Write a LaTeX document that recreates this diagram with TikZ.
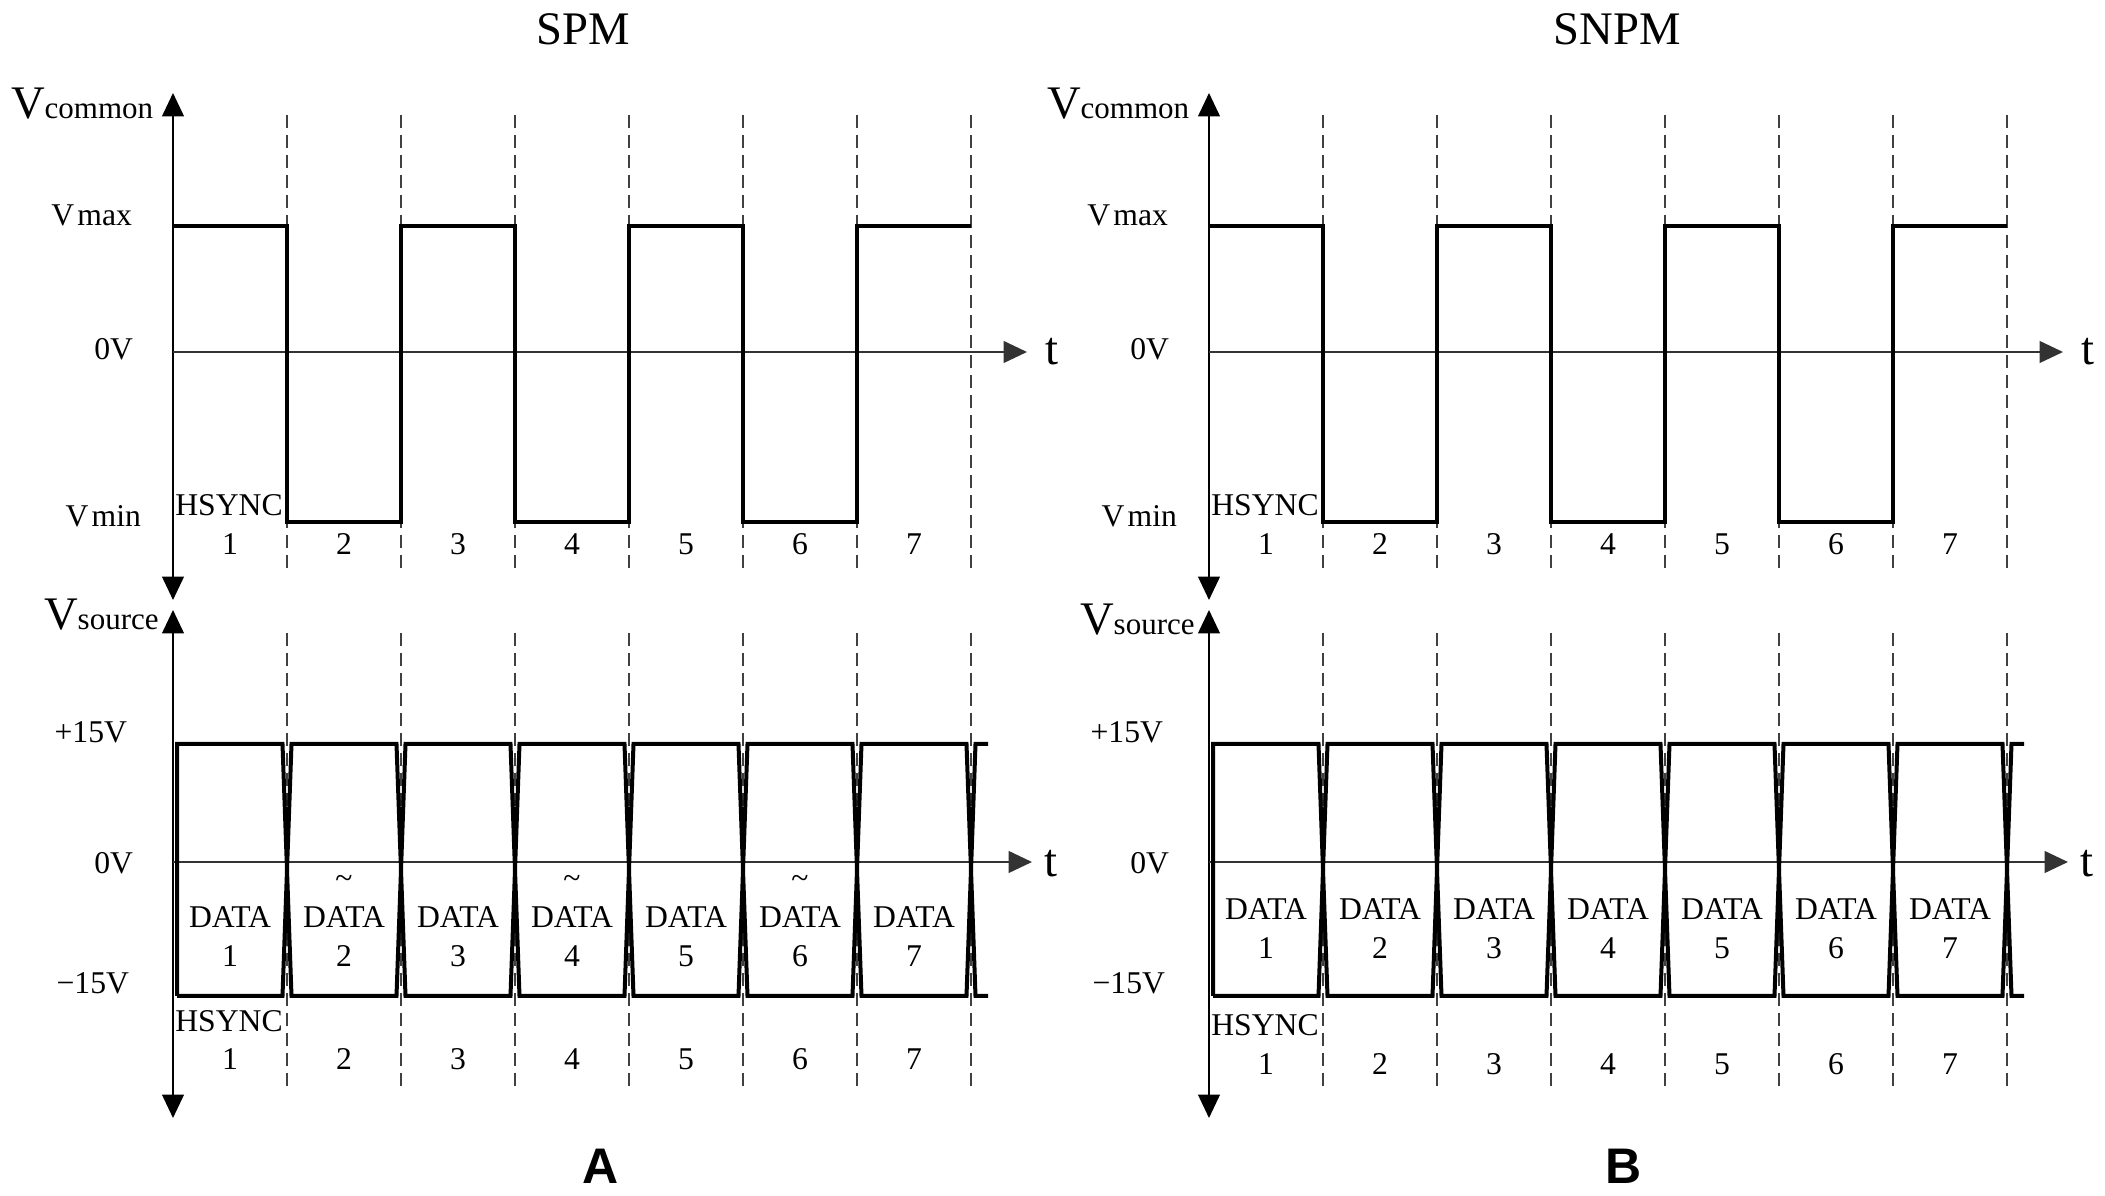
\documentclass[tikz,border=0pt]{standalone}
\usepackage{fontspec}
\setmainfont{Liberation Serif}
\newfontfamily\panelfont{Liberation Sans}
\usetikzlibrary{arrows.meta}

\tikzset{every picture/.style={line width=0.6pt}}
\tikzset{
  axtip/.tip={Triangle[length=7pt,width=6.5pt]},
  axis/.style={-axtip},
  axis2/.style={axtip-axtip},
  zero/.style={draw=black!80},
  slot/.style={draw=black!75, line width=0.55pt, dash pattern=on 3.9pt off 2.1pt},
  wave/.style={line width=1.2pt},
  lbl/.style={font=\fontsize{9.5}{11}\selectfont, inner sep=0pt},
  big/.style={font=\fontsize{14}{16}\selectfont, inner sep=0pt},
  title/.style={font=\fontsize{14}{16}\selectfont, inner sep=0pt, anchor=base},
  panel/.style={font=\panelfont\bfseries\fontsize{15}{17}\selectfont, inner sep=0pt, anchor=base}
}

\begin{document}
\begin{tikzpicture}[x=0.3pt,y=0.3pt,yscale=-1]
	\useasboundingbox (0,0) rectangle (2105,1196);

	% both panels: same axes and waveforms, B shifted right
	\foreach \dx/\p/\dy/\hy/\sy in {0/A/0/0/0, 1036/B/-8/4/5}{
	\begin{scope}[shift={(\dx,0)}]
		% Axes
		\draw [axis2] (173,600) -- (173,93) ;
		\draw [axis2] (173,610) -- (173,1118) ;
		\draw [axis,zero] (173,352) -- (1027,352) ;
		\draw [axis,zero] (173,862) -- (1032,862) ;
		% Slot borders
		\foreach \k in {1,...,7}{
			\draw [slot] ({173+114*\k},115) -- ({173+114*\k},568) ;
			\draw [slot] ({173+114*\k},633) -- ({173+114*\k},1087) ;
		}
		% Vcommon square wave
		\draw [wave] (173,226) -- (287,226) -- (287,522) -- (401,522) -- (401,226) -- (515,226) -- (515,522) -- (629,522) -- (629,226) -- (743,226) -- (743,522) -- (857,522) -- (857,226) -- (971,226) ;
		% Vsource data levels
		\draw [wave] (177,996) -- (177,744) -- (282.5,744) -- (291.5,996) -- (396.5,996) -- (405.5,744) -- (510.5,744) -- (519.5,996) -- (624.5,996) -- (633.5,744) -- (738.5,744) -- (747.5,996) -- (852.5,996) -- (861.5,744) -- (966.5,744) -- (975.5,996) -- (988,996) ;
		\draw [wave] (177,996) -- (282.5,996) -- (291.5,744) -- (396.5,744) -- (405.5,996) -- (510.5,996) -- (519.5,744) -- (624.5,744) -- (633.5,996) -- (738.5,996) -- (747.5,744) -- (852.5,744) -- (861.5,996) -- (966.5,996) -- (975.5,744) -- (988,744) ;

		% Text Node
		\node [big, anchor=base west] (vcom\p) at (10,119) {V{\fontsize{9.3}{11}\selectfont common}};
		\node [lbl, anchor=base east] (vmax\p) at (133,226) {V\kern1pt max};
		\node [lbl, anchor=base east] (zeroup\p) at (134,360) {0V};
		\node [lbl, anchor=base east] (vmin\p) at (142,527) {V\kern1pt min};
		\node [big, anchor=base] (tup\p) at (1052,365) {t};
		\node [lbl, anchor=base] (hsup\p) at (229,516) {HSYNC};
		% Text Node
		\node [big, anchor=base west] (vsrc\p) at (43,{630+\sy}) {V{\fontsize{9.3}{11}\selectfont source}};
		\node [lbl, anchor=base east] (pos\p) at (128,743) {+15V};
		\node [lbl, anchor=base east] (zerolo\p) at (134,874) {0V};
		\node [lbl, anchor=base east] (neg\p) at (130,994) {\textminus15V};
		\node [big, anchor=base] (tlo\p) at (1051,877) {t};
		\node [lbl, anchor=base] (hslo\p) at (229,{1032+\hy}) {HSYNC};
		% Slot numbers
		\foreach \k in {1,...,7}{
			\node [lbl, anchor=base] (nup\p\k) at ({116+114*\k},555) {\k};
			\node [lbl, anchor=base] (data\p\k) at ({116+114*\k},{928+\dy}) {DATA};
			\node [lbl, anchor=base] (dnum\p\k) at ({116+114*\k},{967+\dy}) {\k};
			\node [lbl, anchor=base] (nlo\p\k) at ({116+114*\k},{1070+\hy}) {\k};
		}
	\end{scope}
	}

	% Inverted data marks (SPM only)
	\foreach \k in {2,4,6}
		\node [lbl] (inv\k) at ({116+114*\k},882) {\textasciitilde};

	% Titles
	\node [title] (spm) at (583,45) {SPM};
	\node [title] (snpm) at (1617,45) {SNPM};
	\node [panel] (pa) at (601,1184) {A};
	\node [panel] (pb) at (1624,1184) {B};

\end{tikzpicture}
\end{document}
